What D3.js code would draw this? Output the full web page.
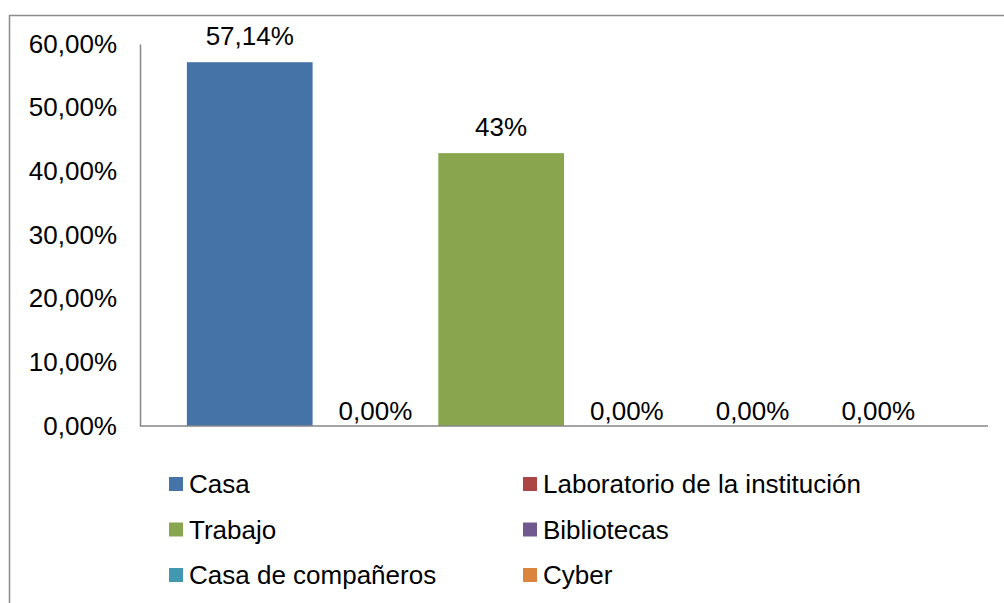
<!DOCTYPE html>
<html>
<head>
<meta charset="utf-8">
<script src="https://cdn.jsdelivr.net/npm/d3@7"></script>
<style>
  body { margin: 0; background: #fff; }
  text { font-family: "Liberation Sans", Arial, sans-serif; fill: #000; }
</style>
</head>
<body>
<div id="graph"></div>
<script>
const categories = ["Casa", "Laboratorio de la institución", "Trabajo", "Bibliotecas", "Casa de compañeros", "Cyber"]
const values = [0.5714, 0, 0.4286, 0, 0, 0]
const valueLabels = ["57,14%", "0,00%", "43%", "0,00%", "0,00%", "0,00%"]
const yTicks = [0, 0.1, 0.2, 0.3, 0.4, 0.5, 0.6]
const colors = ["#4572A7", "#AA4643", "#89A54E", "#71588F", "#4198AF", "#DB843D"]

const W = 1004, H = 603

const svg = d3.select("#graph")
    .append("svg")
    .attr("width", W)
    .attr("height", H)

// outer chart border (right and bottom fall outside the picture)
svg.append("rect")
    .attr("x", 9.5)
    .attr("y", 15.5)
    .attr("width", 1100)
    .attr("height", 700)
    .attr("fill", "none")
    .attr("stroke", "#8c8c8c")
    .attr("stroke-width", 1.5)

const xScale = d3.scaleBand()
    .domain(categories)
    .range([140, 988])
    .paddingInner(0)
    .paddingOuter(0.373)

const yScale = d3.scaleLinear()
    .domain([0, 0.6])
    .range([426, 44])

const yAxis = d3.axisLeft(yScale)
    .tickValues(yTicks)
    .tickSize(0)
    .tickPadding(23)
    .tickFormat(d => d3.format(".2f")(d * 100).replace(".", ",") + "%")

svg.selectAll("rect.bar") //bars
    .data(values)
    .enter()
    .append("rect")
    .attr("class", "bar")
    .attr("x", (d, i) => xScale(categories[i]))
    .attr("y", d => yScale(d))
    .attr("width", xScale.bandwidth())
    .attr("height", d => yScale(0) - yScale(d))
    .attr("fill", (d, i) => colors[i])

svg.selectAll("text.val") //data labels
    .data(values)
    .enter()
    .append("text")
    .attr("class", "val")
    .attr("x", (d, i) => xScale(categories[i]) + xScale.bandwidth() / 2)
    .attr("y", d => yScale(d) - (d > 0 ? 17 : 6))
    .attr("text-anchor", "middle")
    .style("font-size", "26px")
    .text((d, i) => valueLabels[i])

const gy = svg.append("g") //y-axis
    .attr("transform", "translate(140,0)")
    .call(yAxis)
gy.select(".domain").attr("stroke", "#868686").attr("stroke-width", 1.5)
gy.selectAll("text").style("font-size", "26px").attr("fill", "#000")

svg.append("line") //x-axis
    .attr("x1", 140)
    .attr("x2", 988)
    .attr("y1", yScale(0))
    .attr("y2", yScale(0))
    .attr("stroke", "#868686")
    .attr("stroke-width", 1.5)

// legend, two columns
const legend = svg.selectAll("g.legend")
    .data(categories)
    .enter()
    .append("g")
    .attr("class", "legend")
    .attr("transform", (d, i) => `translate(${i % 2 === 0 ? 169 : 523},${484 + Math.floor(i / 2) * 45.5})`)

legend.append("rect")
    .attr("x", 0)
    .attr("y", -7)
    .attr("width", 14)
    .attr("height", 14)
    .attr("fill", (d, i) => colors[i])

legend.append("text")
    .attr("x", 20)
    .attr("y", 0)
    .attr("dy", "0.35em")
    .style("font-size", "26px")
    .text(d => d)
</script>
</body>
</html>
